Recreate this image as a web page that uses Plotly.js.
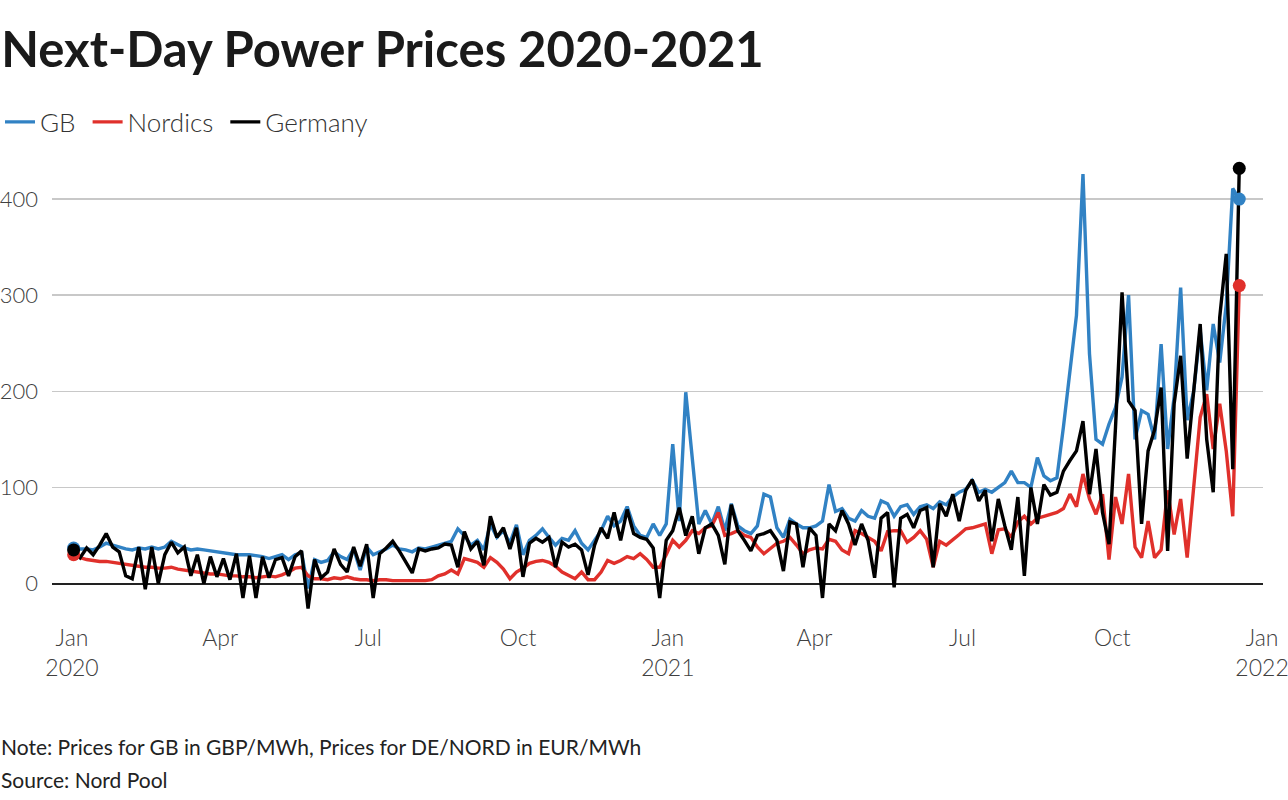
<!DOCTYPE html>
<html>
<head>
<meta charset="utf-8">
<script src="https://cdn.plot.ly/plotly-3.0.1.min.js"></script>
<style>
  html, body { margin: 0; padding: 0; background: #fff; }
  #chart { width: 1288px; height: 800px; }
</style>
</head>
<body>
<div id="chart"></div>
<script>
// Daily next-day prices sampled every 4 days, starting 2 Jan 2020
const startDate = '2020-01-02';
const stepDays = 4;

const gb = [
  37, 36, 36, 35, 38, 42, 40, 38, 36, 35, 37, 36, 38, 36, 38, 44, 40, 37, 35, 36, 35, 34, 33, 32, 31, 30, 30, 30, 29,
  28, 26, 28, 30, 25, 30, 32, -5, 25, 22, 24, 33, 28, 25, 36, 14, 38, 30, 33, 36, 40, 36, 35, 33, 37, 36, 38, 40,
  42, 44, 57, 50, 40, 45, 35, 62, 48, 55, 42, 61, 30, 45, 50, 57, 48, 40, 47, 45, 55, 42, 35, 45, 55, 70, 60, 65, 80, 60,
  50, 48, 62, 50, 62, 145, 65, 199, 130, 62, 76, 62, 80, 55, 83, 60, 55, 52, 60, 93, 90, 58, 48, 67, 62, 58, 58, 60, 65,
  103, 75, 78, 68, 65, 76, 70, 68, 86, 83, 70, 80, 82, 72, 80, 82, 78, 85, 82, 90, 95, 98, 107, 95, 98, 95, 100, 105, 117, 105,
  105, 100, 131, 112, 107, 110, 163, 221, 279, 426, 239, 150, 145, 166, 183, 215, 300, 150, 180, 176,
  150, 249, 140, 194, 308, 170, 200, 263, 201, 270, 230, 290, 411, 400
];

const nordics = [
  30, 27, 25, 24, 23, 23, 22, 21, 20, 19, 18, 17, 17, 16, 16, 17, 15, 14, 13, 12, 11, 10, 10, 9, 8, 8, 7, 7, 6,
  7, 8, 7, 9, 12, 16, 17, 8, 5, 5, 4, 6, 5, 7, 5, 4, 4, 3, 4, 4, 3, 3, 3, 3, 3, 3, 4, 8,
  10, 14, 10, 26, 24, 22, 17, 27, 22, 15, 5, 12, 16, 21, 23, 24, 22, 18, 12, 8, 5, 12, 4, 4, 12, 24, 21, 24, 28, 26,
  31, 25, 17, 17, 30, 45, 38, 45, 55, 52, 58, 60, 74, 50, 52, 55, 50, 48, 38, 31, 37, 42, 44, 48, 40, 31, 35, 37, 36,
  46, 44, 35, 31, 55, 52, 48, 44, 34, 54, 55, 55, 43, 48, 55, 46, 17, 44, 40, 45, 51, 57, 58, 60, 62, 31, 56, 57, 48, 64,
  70, 62, 68, 70, 72, 74, 78, 93, 80, 114, 88, 72, 93, 25, 90, 62, 114, 38, 27, 65,
  27, 35, 97, 51, 88, 27, 100, 173, 197, 140, 187, 138, 70, 310
];

const germany = [
  35, 27, 37, 30, 40, 52, 38, 33, 8, 5, 38, -6, 38, 0, 30, 43, 32, 38, 8, 30, 0, 28, 7, 26, 4, 31, -15, 29, -15,
  28, 6, 25, 27, 8, 28, 34, -26, 25, 6, 12, 36, 20, 12, 38, 18, 41, -15, 31, 37, 44, 34, 22, 11, 36, 34, 36, 37,
  41, 40, 17, 54, 36, 44, 19, 70, 48, 58, 36, 58, 7, 42, 47, 43, 48, 17, 43, 38, 41, 35, 9, 40, 58, 47, 74, 45, 77, 52,
  48, 46, 37, -15, 45, 55, 79, 50, 70, 31, 58, 62, 50, 20, 82, 55, 45, 34, 50, 52, 55, 45, 13, 64, 62, 17, 58, 50, -15,
  62, 55, 76, 62, 40, 62, 45, 6, 68, 74, -4, 68, 72, 58, 76, 79, 17, 83, 70, 93, 65, 97, 108, 86, 97, 44, 88, 60, 35, 90,
  8, 100, 62, 103, 92, 95, 117, 128, 138, 169, 93, 140, 74, 41, 163, 303, 190, 180, 62, 138,
  160, 204, 34, 187, 237, 130, 200, 270, 150, 95, 277, 343, 119, 432
];

const seriesNames = ['GB', 'Nordics', 'Germany'];
const seriesColors = ['#3182c4', '#e0302b', '#000000'];

const xTickVals = ['2020-01-01', '2020-04-01', '2020-07-01', '2020-10-01', '2021-01-01',
                   '2021-04-01', '2021-07-01', '2021-10-01', '2022-01-01'];
const xTickText = ['Jan<br>2020', 'Apr', 'Jul', 'Oct', 'Jan<br>2021', 'Apr', 'Jul', 'Oct', 'Jan<br>2022'];
const yTickVals = [0, 100, 200, 300, 400];

// build the date axis
const dates = [];
const t0 = new Date(startDate + 'T00:00:00Z').getTime();
for (let i = 0; i < gb.length; i++) {
  const d = new Date(t0 + i * stepDays * 86400000);
  dates.push(d.toISOString().slice(0, 10));
}

const NBSP = '\u00a0';
const allSeries = [gb, nordics, germany];
const traces = [];
allSeries.forEach((vals, k) => {
  traces.push({
    x: dates, y: vals, type: 'scatter', mode: 'lines',
    name: seriesNames[k] + (k < 2 ? NBSP : ''),
    line: { color: seriesColors[k], width: 3.4, shape: 'linear' },
    hoverinfo: 'skip'
  });
});
allSeries.forEach((vals, k) => {
  const n = vals.length;
  traces.push({
    x: [dates[0], dates[n - 1]], y: [vals[0], vals[n - 1]],
    type: 'scatter', mode: 'markers', showlegend: false,
    marker: { color: seriesColors[k], size: 13, line: { width: 0 } },
    hoverinfo: 'skip'
  });
});

const FONT = 'Lato, "Open Sans", sans-serif';

const layout = {
  width: 1288, height: 800,
  paper_bgcolor: '#ffffff', plot_bgcolor: '#ffffff',
  font: { family: FONT, color: '#333333' },
  margin: { l: 52, r: 25, t: 151, b: 178, pad: 0 },
  title: {
    text: 'Next-Day Power Prices 2020-2021',
    font: { family: FONT, size: 49, weight: 700, color: '#1a1a1a' },
    x: 0.001, xref: 'container', xanchor: 'left',
    y: 1 - 50 / 800, yref: 'container', yanchor: 'middle'
  },
  showlegend: true,
  legend: {
    orientation: 'h',
    xref: 'container', x: -0.003, xanchor: 'left',
    yref: 'container', y: 1 - 122 / 800, yanchor: 'middle',
    font: { family: FONT, size: 26, weight: 300, color: '#333333' },
    itemwidth: 30, tracegroupgap: 0, traceorder: 'normal',
    bgcolor: 'rgba(0,0,0,0)'
  },
  xaxis: {
    type: 'date',
    range: ['2019-12-19 17:00', '2022-01-01 14:00'],
    tickmode: 'array', tickvals: xTickVals, ticktext: xTickText,
    showgrid: false, zeroline: false, showline: false, ticks: '',
    ticklabeloverflow: 'allow',
    tickfont: { family: FONT, size: 23, weight: 300, color: '#404040' },
    fixedrange: true
  },
  yaxis: {
    range: [-40, 450],
    tickmode: 'array', tickvals: yTickVals,
    showgrid: true, gridcolor: '#c8c8c8', gridwidth: 1.5,
    zeroline: true, zerolinecolor: '#222222', zerolinewidth: 2,
    showline: false, ticks: '', ticklabelstandoff: 13,
    tickfont: { family: FONT, size: 22, weight: 300, color: '#404040' },
    fixedrange: true
  },
  annotations: [
    {
      text: 'Note: Prices for GB in GBP/MWh, Prices for DE/NORD in EUR/MWh',
      xref: 'paper', x: (-1 - 52) / 1211, xanchor: 'left',
      yref: 'paper', y: (622 - 746) / 471, yanchor: 'middle',
      showarrow: false, font: { family: FONT, size: 21, color: '#222222' }
    },
    {
      text: 'Source: Nord Pool',
      xref: 'paper', x: (-1 - 52) / 1211, xanchor: 'left',
      yref: 'paper', y: (622 - 779) / 471, yanchor: 'middle',
      showarrow: false, font: { family: FONT, size: 21, color: '#222222' }
    }
  ]
};

Plotly.newPlot('chart', traces, layout, { displayModeBar: false, staticPlot: true });
</script>
</body>
</html>
